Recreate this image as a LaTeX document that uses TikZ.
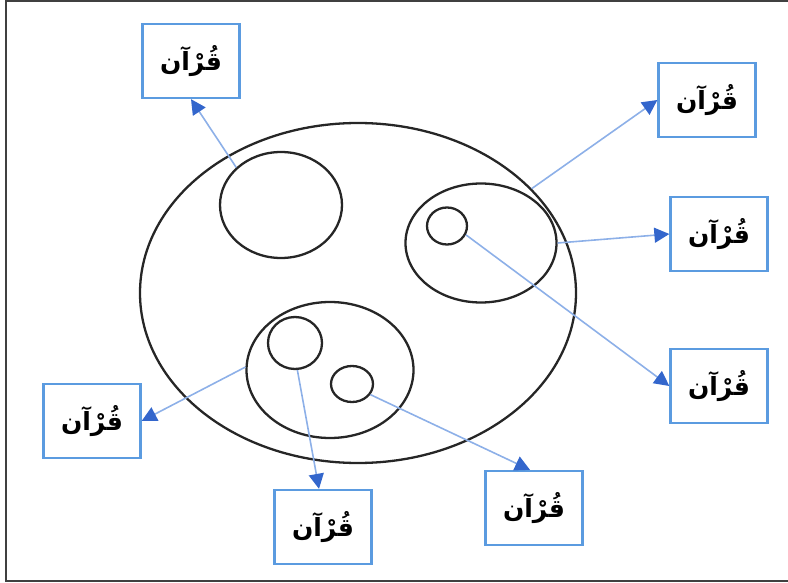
\documentclass[tikz,border=0pt]{standalone}
\usepackage{fontspec}
\newfontfamily\arabicfont[Script=Arabic]{DejaVu Sans}
\TeXXeTstate=1
\usetikzlibrary{shapes.geometric,arrows.meta}
\definecolor{boxblue}{HTML}{5B9BE0}
\definecolor{linkblue}{HTML}{8DB0E8}
\definecolor{tipblue}{HTML}{3366CC}
\definecolor{framegray}{HTML}{404040}
\tikzset{
  ring/.style={draw=black!85, line width=2.3pt, ellipse, inner sep=0pt},
  wordbox/.style={draw=boxblue, line width=2.3pt, minimum width=97pt, minimum height=74pt,
    inner sep=0pt, font=\arabicfont\bfseries\fontsize{25}{28}\selectfont},
  link/.style={draw=linkblue, line width=1.6pt,
    -{Triangle[length=15pt,width=15pt,fill=tipblue,color=tipblue]}},
}
\newcommand{\quranword}{\beginR قُرْآن\endR}
\begin{document}
\begin{tikzpicture}[x=1pt,y=-1pt]
  \useasboundingbox (0,0) rectangle (788,583);
  % open frame: top, left and bottom edges
  \draw[framegray, line width=2pt] (788,1) -- (6,1) -- (6,581) -- (788,581);

  % the large set and its subsets
  \node[ring, minimum width=436pt, minimum height=340pt] (all) at (358,293) {};
  \node[ring, minimum width=122pt, minimum height=106pt] (a) at (281,205) {};
  \node[ring, minimum width=151pt, minimum height=119pt] (b) at (481,243) {};
  \node[ring, minimum width=40pt, minimum height=37pt] (b1) at (447,226) {};
  \node[ring, minimum width=167pt, minimum height=136pt] (c) at (330,370) {};
  \node[ring, minimum width=54pt, minimum height=52pt] (c1) at (295,343) {};
  \node[ring, minimum width=42pt, minimum height=36pt] (c2) at (352,384) {};

  % labels
  \node[wordbox] (w1) at (191,61) {\quranword};
  \node[wordbox] (w2) at (707,100) {\quranword};
  \node[wordbox] (w3) at (719,234) {\quranword};
  \node[wordbox] (w4) at (719,386) {\quranword};
  \node[wordbox] (w5) at (92,421) {\quranword};
  \node[wordbox] (w6) at (323,527) {\quranword};
  \node[wordbox] (w7) at (534,508) {\quranword};

  % links from each set to its label
  \draw[link] (a.140) -- (w1.south);
  \draw[link] (all.31) -- (w2.west);
  \draw[link] (b.0) -- (w3.west);
  \draw[link] (b1.-25) -- (w4.west);
  \draw[link] (c.178) -- (w5.east);
  \draw[link] (c1.-85) -- ([xshift=-4pt]w6.north);
  \draw[link] (c2.-30) -- ([xshift=-4pt]w7.north);
\end{tikzpicture}
\end{document}
